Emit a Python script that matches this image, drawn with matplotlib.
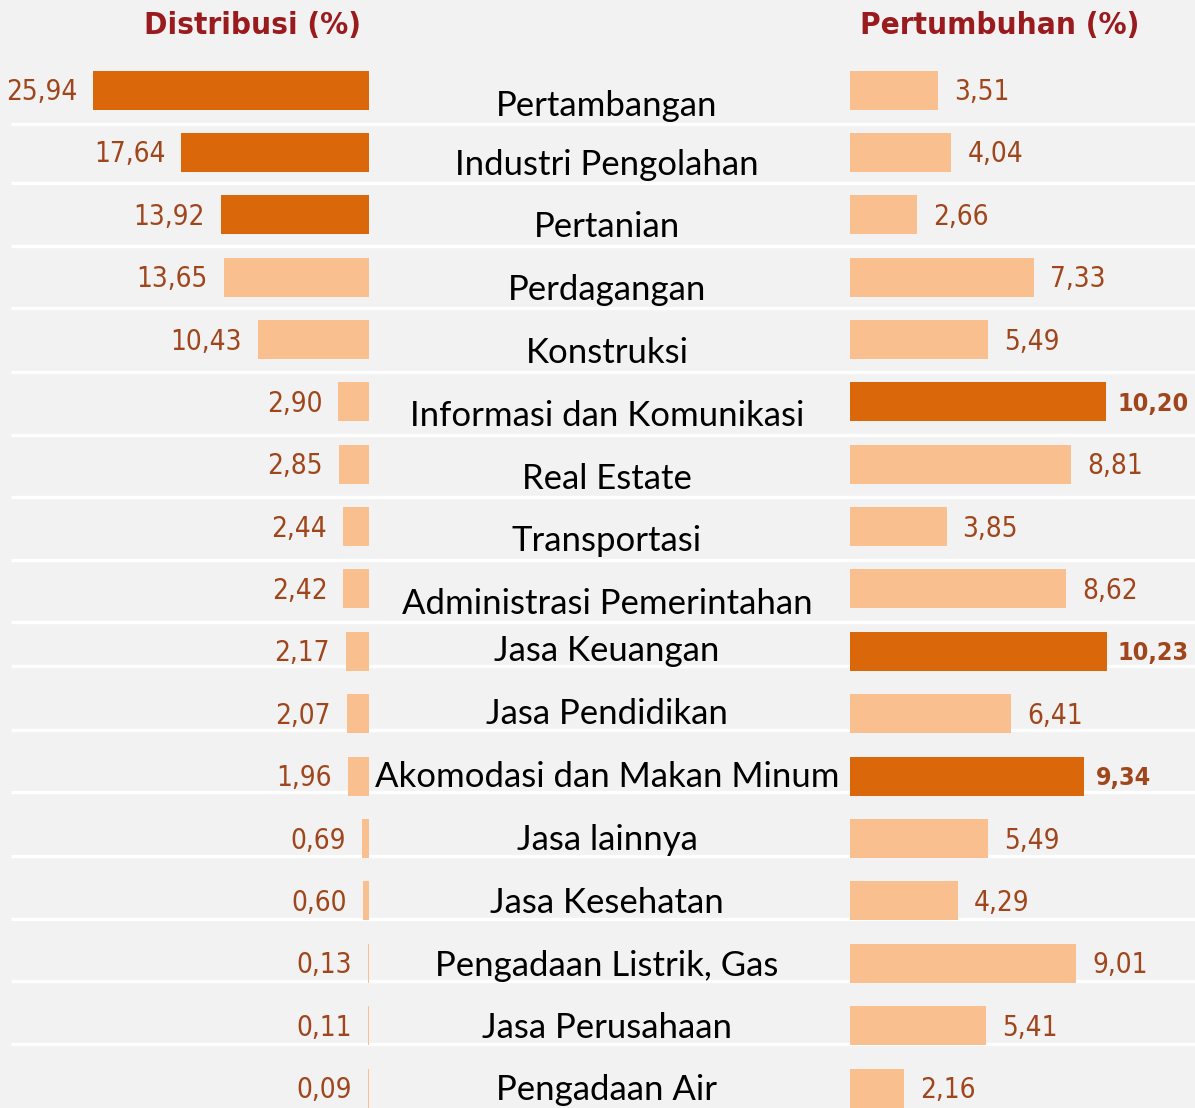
import matplotlib
matplotlib.use("Agg")
import matplotlib.pyplot as plt

sectors = [
    "Pertambangan", "Industri Pengolahan", "Pertanian", "Perdagangan",
    "Konstruksi", "Informasi dan Komunikasi", "Real Estate", "Transportasi",
    "Administrasi Pemerintahan", "Jasa Keuangan", "Jasa Pendidikan",
    "Akomodasi dan Makan Minum", "Jasa lainnya", "Jasa Kesehatan",
    "Pengadaan Listrik, Gas", "Jasa Perusahaan", "Pengadaan Air",
]
distribusi = [25.94, 17.64, 13.92, 13.65, 10.43, 2.90, 2.85, 2.44, 2.42,
              2.17, 2.07, 1.96, 0.69, 0.60, 0.13, 0.11, 0.09]
pertumbuhan = [3.51, 4.04, 2.66, 7.33, 5.49, 10.20, 8.81, 3.85, 8.62,
               10.23, 6.41, 9.34, 5.49, 4.29, 9.01, 5.41, 2.16]
dist_highlight = [True, True, True] + [False] * 14
grow_highlight = [False] * 5 + [True] + [False] * 3 + [True, False, True] + [False] * 5

DARK = "#DA680A"
LIGHT = "#FABF8F"
NUM = "#A0461C"
TITLE = "#991B1E"
BG = "#F2F2F2"
NARROW = ["DejaVu Sans"]

W, H = 1195, 1108
fig = plt.figure(figsize=(W / 100, H / 100), dpi=100, facecolor=BG)

bg = fig.add_axes([0, 0, 1, 1])
bg.set_xlim(0, W)
bg.set_ylim(H, 0)
bg.axis("off")

y0, pitch = 90.0, 62.375
n = len(sectors)
# vertical shift of the table rows relative to the bars (px)
row_shift = [13, 10, 10, 10, 11, 12, 12, 12, 12, -3, -2, -2, -1, 0, 0, 0, 0]

for i, name in enumerate(sectors):
    yc = y0 + pitch * i + row_shift[i]
    bg.text(607, yc + 2.5, name, ha="center", va="center", fontsize=25,
            family=["Lato", "DejaVu Sans"], color="black")
    if i < n - 1:
        ys = yc + (21 if i < 9 else 18)
        bg.plot([11, W], [ys, ys], color="white", lw=2.4, solid_capstyle="butt")

bg.text(253, 26, "Distribusi (%)", ha="center", va="center", fontsize=22.5,
        fontweight="bold", family=NARROW, fontstretch="condensed", color=TITLE)
bg.text(1000, 26, "Pertumbuhan (%)", ha="center", va="center", fontsize=22.5,
        fontweight="bold", family=NARROW, fontstretch="condensed", color=TITLE)

ytop = -y0 / pitch
ybot = (H - y0) / pitch
bar_h = 39 / pitch
rows = list(range(n))

axl = fig.add_axes([10 / W, 0, (369 - 10) / W, 1])
axl.set_xlim((369 - 10) / 10.64, 0)
axl.set_ylim(ybot, ytop)
axl.axis("off")
axl.barh(rows, distribusi, height=bar_h,
         color=[DARK if h else LIGHT for h in dist_highlight])
for i, v in enumerate(distribusi):
    axl.annotate(f"{v:.2f}".replace(".", ","), (v, i), xytext=(-11.5, -1.5),
                 textcoords="offset points", ha="right", va="center",
                 fontsize=20, family=NARROW, fontstretch="condensed", color=NUM)

axr = fig.add_axes([850 / W, 0, (W - 850) / W, 1])
axr.set_xlim(0, (W - 850) / 25.1)
axr.set_ylim(ybot, ytop)
axr.axis("off")
axr.barh(rows, pertumbuhan, height=bar_h,
         color=[DARK if h else LIGHT for h in grow_highlight])
for i, v in enumerate(pertumbuhan):
    bold = grow_highlight[i]
    axr.annotate(f"{v:.2f}".replace(".", ","), (v, i),
                 xytext=(8 if bold else 11.5, -1.5),
                 textcoords="offset points", ha="left", va="center",
                 fontsize=18 if bold else 20, family=NARROW,
                 fontstretch="condensed", color=NUM,
                 fontweight="bold" if bold else "normal")

fig.savefig("out.png", dpi=100, facecolor=BG)
